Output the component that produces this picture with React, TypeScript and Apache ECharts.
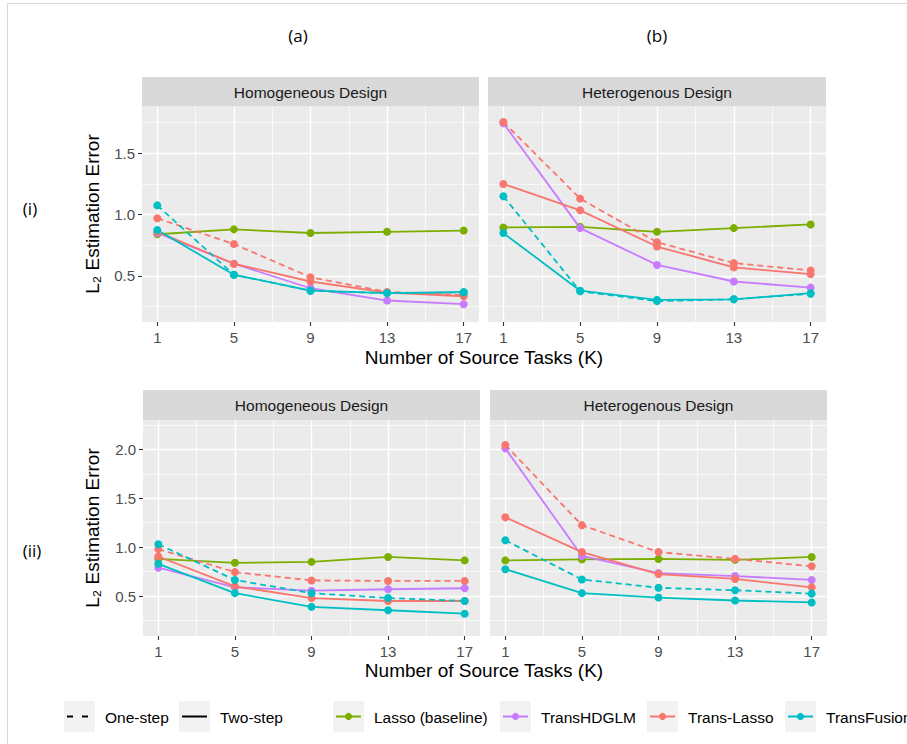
import React, { useEffect, useRef } from 'react';
import * as echarts from 'echarts';

// ---------- data ----------
const K = [1, 5, 9, 13, 17];
const xTicks = [1, 5, 9, 13, 17];
const xMinor = [3, 7, 11, 15];
const yTicksTop = [0.5, 1.0, 1.5];
const yMinorTop = [0.25, 0.75, 1.25, 1.75];
const yTicksBottom = [0.5, 1.0, 1.5, 2.0];
const yMinorBottom = [0.25, 0.75, 1.25, 1.75, 2.25];

const panelTitles = ['Homogeneous Design', 'Heterogenous Design', 'Homogeneous Design', 'Heterogenous Design'];
const methods = ['Lasso (baseline)', 'TransHDGLM', 'Trans-Lasso', 'TransFusion'];
const methodColors = ['#7CAE00', '#C77CFF', '#F8766D', '#00BFC4'];
const stepNames = ['One-step', 'Two-step'];

// (a)(i) Homogeneous design, row (i)
const lassoAI = [0.84, 0.88, 0.85, 0.86, 0.87];
const hdglmAI = [0.85, 0.60, 0.40, 0.30, 0.27];
const tlOneAI = [0.97, 0.76, 0.49, 0.37, 0.345];
const tlTwoAI = [0.86, 0.60, 0.455, 0.365, 0.335];
const tfOneAI = [1.075, 0.51, 0.38, 0.36, 0.365];
const tfTwoAI = [0.875, 0.51, 0.38, 0.36, 0.37];

// (b)(i) Heterogenous design, row (i)
const lassoBI = [0.895, 0.90, 0.86, 0.89, 0.92];
const hdglmBI = [1.745, 0.89, 0.59, 0.455, 0.405];
const tlOneBI = [1.755, 1.13, 0.775, 0.605, 0.545];
const tlTwoBI = [1.25, 1.035, 0.74, 0.57, 0.515];
const tfOneBI = [1.15, 0.375, 0.295, 0.31, 0.355];
const tfTwoBI = [0.85, 0.38, 0.305, 0.31, 0.36];

// (a)(ii)
const lassoAII = [0.88, 0.84, 0.85, 0.90, 0.865];
const hdglmAII = [0.79, 0.59, 0.555, 0.57, 0.58];
const tlOneAII = [0.98, 0.745, 0.66, 0.655, 0.655];
const tlTwoAII = [0.905, 0.60, 0.48, 0.45, 0.45];
const tfOneAII = [1.03, 0.665, 0.53, 0.48, 0.45];
const tfTwoAII = [0.83, 0.53, 0.39, 0.355, 0.32];

// (b)(ii)
const lassoBII = [0.865, 0.875, 0.88, 0.87, 0.90];
const hdglmBII = [2.01, 0.91, 0.735, 0.705, 0.665];
const tlOneBII = [2.045, 1.225, 0.95, 0.88, 0.805];
const tlTwoBII = [1.305, 0.95, 0.725, 0.675, 0.59];
const tfOneBII = [1.07, 0.67, 0.585, 0.56, 0.525];
const tfTwoBII = [0.775, 0.53, 0.485, 0.455, 0.435];

// ---------- layout ----------
const FONT = 'Liberation Sans, Arial, Helvetica, sans-serif';
const grids = [
  { left: 142, top: 106, width: 337, height: 216 },
  { left: 488, top: 106, width: 338, height: 216 },
  { left: 143, top: 420, width: 337, height: 216 },
  { left: 490, top: 420, width: 337, height: 216 },
];
const yRanges = [
  [0.125, 1.885],
  [0.125, 1.885],
  [0.092, 2.3],
  [0.092, 2.3],
];

type SeriesSpec = { m: number; dashed: boolean; vals: number[] };
const panelSeries: SeriesSpec[][] = [
  [
    { m: 0, dashed: false, vals: lassoAI },
    { m: 1, dashed: false, vals: hdglmAI },
    { m: 2, dashed: true, vals: tlOneAI },
    { m: 2, dashed: false, vals: tlTwoAI },
    { m: 3, dashed: true, vals: tfOneAI },
    { m: 3, dashed: false, vals: tfTwoAI },
  ],
  [
    { m: 0, dashed: false, vals: lassoBI },
    { m: 1, dashed: false, vals: hdglmBI },
    { m: 2, dashed: true, vals: tlOneBI },
    { m: 2, dashed: false, vals: tlTwoBI },
    { m: 3, dashed: true, vals: tfOneBI },
    { m: 3, dashed: false, vals: tfTwoBI },
  ],
  [
    { m: 0, dashed: false, vals: lassoAII },
    { m: 1, dashed: false, vals: hdglmAII },
    { m: 2, dashed: true, vals: tlOneAII },
    { m: 2, dashed: false, vals: tlTwoAII },
    { m: 3, dashed: true, vals: tfOneAII },
    { m: 3, dashed: false, vals: tfTwoAII },
  ],
  [
    { m: 0, dashed: false, vals: lassoBII },
    { m: 1, dashed: false, vals: hdglmBII },
    { m: 2, dashed: true, vals: tlOneBII },
    { m: 2, dashed: false, vals: tlTwoBII },
    { m: 3, dashed: true, vals: tfOneBII },
    { m: 3, dashed: false, vals: tfTwoBII },
  ],
];

function buildOption() {
  const xAxis: any[] = [];
  const yAxis: any[] = [];
  const series: any[] = [];
  const graphic: any[] = [];

  // major axes
  grids.forEach((g, i) => {
    const top = i < 2;
    const yT = top ? yTicksTop : yTicksBottom;
    xAxis.push({
      type: 'value', gridIndex: i, min: 0.2, max: 17.8,
      axisLine: { show: false },
      axisTick: { show: true, length: 4, lineStyle: { color: '#333333', width: 1.1 }, customValues: xTicks },
      axisLabel: { show: true, customValues: xTicks, color: '#4D4D4D', fontSize: 15, fontFamily: FONT, margin: 8 },
      splitLine: { show: true, lineStyle: { color: '#FFFFFF', width: 1.4 } },
    });
    yAxis.push({
      type: 'value', gridIndex: i, min: yRanges[i][0], max: yRanges[i][1],
      axisLine: { show: false },
      axisTick: { show: i % 2 === 0, length: 4, lineStyle: { color: '#333333', width: 1.1 }, customValues: yT },
      axisLabel: {
        show: i % 2 === 0, customValues: yT, color: '#4D4D4D', fontSize: 15, fontFamily: FONT, margin: 7,
        formatter: (v: number) => v.toFixed(1),
      },
      splitLine: { show: true, lineStyle: { color: '#FFFFFF', width: 1.4 } },
    });
  });
  // minor axes (grid lines only)
  grids.forEach((g, i) => {
    const top = i < 2;
    const yM = top ? yMinorTop : yMinorBottom;
    xAxis.push({
      type: 'value', gridIndex: i, min: 0.2, max: 17.8, position: 'bottom',
      axisLine: { show: false },
      axisTick: { show: false, customValues: xMinor },
      axisLabel: { show: false, customValues: xMinor },
      splitLine: { show: true, lineStyle: { color: '#FFFFFF', width: 0.7 } },
    });
    yAxis.push({
      type: 'value', gridIndex: i, min: yRanges[i][0], max: yRanges[i][1], position: 'left',
      axisLine: { show: false },
      axisTick: { show: false, customValues: yM },
      axisLabel: { show: false, customValues: yM },
      splitLine: { show: true, lineStyle: { color: '#FFFFFF', width: 0.7 } },
    });
  });

  panelSeries.forEach((list, i) => {
    list.forEach((s) => {
      series.push({
        type: 'line',
        name: methods[s.m] + (s.dashed ? ' ' + stepNames[0] : ' ' + stepNames[1]),
        xAxisIndex: i, yAxisIndex: i,
        data: K.map((k, j) => [k, s.vals[j]]),
        symbol: 'circle', symbolSize: 8, showSymbol: true,
        itemStyle: { color: methodColors[s.m] },
        lineStyle: { color: methodColors[s.m], width: 1.8, type: s.dashed ? [6, 4] : 'solid' },
        emphasis: { disabled: true },
        silent: true,
        z: 3,
      });
    });
  });

  // frame
  graphic.push({
    type: 'rect', shape: { x: 7.5, y: 3.5, width: 1000, height: 1000 },
    style: { fill: 'none', stroke: '#D9D9D9', lineWidth: 1 }, silent: true, z: -10,
  });

  // strips
  grids.forEach((g, i) => {
    const top = i < 2;
    const sy = top ? 77 : 390;
    const sh = top ? 29 : 30;
    graphic.push({
      type: 'rect', shape: { x: g.left, y: sy, width: g.width, height: sh },
      style: { fill: '#D9D9D9' }, silent: true,
    });
    graphic.push({
      type: 'text', x: g.left + g.width / 2, y: sy + sh / 2 + 0.5,
      style: { text: panelTitles[i], fill: '#1A1A1A', fontSize: 15.5, fontFamily: FONT, align: 'center', verticalAlign: 'middle' },
      silent: true,
    });
  });

  // axis titles
  [357, 670].forEach((y) => {
    graphic.push({
      type: 'text', x: 484, y,
      style: { text: 'Number of Source Tasks (K)', fill: '#000000', fontSize: 19, fontFamily: FONT, align: 'center', verticalAlign: 'middle' },
      silent: true,
    });
  });
  [214, 528].forEach((y) => {
    graphic.push({
      type: 'text', x: 92, y, rotation: Math.PI / 2,
      style: { text: 'L₂ Estimation Error', fill: '#000000', fontSize: 19, fontFamily: FONT, align: 'center', verticalAlign: 'middle' },
      silent: true,
    });
  });

  // panel labels
  const labelFont = 'Open Sans, Noto Sans, sans-serif';
  [
    { t: '(a)', x: 298, y: 35 },
    { t: '(b)', x: 657, y: 35 },
    { t: '(i)', x: 30, y: 208 },
    { t: '(ii)', x: 32, y: 550 },
  ].forEach((l) => {
    graphic.push({
      type: 'text', x: l.x, y: l.y,
      style: { text: l.t, fill: '#000000', fontSize: 17, fontFamily: labelFont, align: 'center', verticalAlign: 'middle' },
      silent: true,
    });
  });

  // legend
  const ky = 701, ks = 31, kc = ky + ks / 2;
  const stepKeys = [
    { x: 64, dash: [6, 9], tx: 105 },
    { x: 179, dash: null, tx: 220 },
  ];
  stepKeys.forEach((k, i) => {
    graphic.push({ type: 'rect', shape: { x: k.x, y: ky, width: ks, height: ks }, style: { fill: '#F2F2F2' }, silent: true });
    graphic.push({
      type: 'line', shape: { x1: k.x + 3, y1: kc, x2: k.x + 28, y2: kc },
      style: { stroke: '#000000', lineWidth: 2, lineDash: k.dash || undefined }, silent: true,
    });
    graphic.push({
      type: 'text', x: k.tx, y: kc + 1,
      style: { text: stepNames[i], fill: '#000000', fontSize: 15.5, fontFamily: FONT, align: 'left', verticalAlign: 'middle' },
      silent: true,
    });
  });
  const methodKeyX = [333, 500, 647, 785];
  methods.forEach((m, i) => {
    const x = methodKeyX[i];
    graphic.push({ type: 'rect', shape: { x, y: ky, width: ks, height: ks }, style: { fill: '#F2F2F2' }, silent: true });
    graphic.push({
      type: 'line', shape: { x1: x + 3, y1: kc, x2: x + 28, y2: kc },
      style: { stroke: methodColors[i], lineWidth: 2 }, silent: true,
    });
    graphic.push({
      type: 'circle', shape: { cx: x + ks / 2, cy: kc, r: 3.6 },
      style: { fill: methodColors[i] }, silent: true,
    });
    graphic.push({
      type: 'text', x: x + 41, y: kc + 1,
      style: { text: m, fill: '#000000', fontSize: 15.5, fontFamily: FONT, align: 'left', verticalAlign: 'middle' },
      silent: true,
    });
  });

  return {
    animation: false,
    backgroundColor: '#FFFFFF',
    grid: grids.map((g) => ({ ...g, show: true, backgroundColor: '#EBEBEB', borderWidth: 0, containLabel: false })),
    xAxis,
    yAxis,
    series,
    graphic,
  };
}

export default function App() {
  const ref = useRef<HTMLDivElement>(null);
  useEffect(() => {
    if (!ref.current) return;
    const chart = echarts.init(ref.current, null, { renderer: 'svg' });
    chart.setOption(buildOption() as any);
    return () => chart.dispose();
  }, []);
  return (
    <div
      ref={ref}
      style={{ position: 'absolute', left: 0, top: 0, width: 907, height: 744, background: '#FFFFFF' }}
    />
  );
}
